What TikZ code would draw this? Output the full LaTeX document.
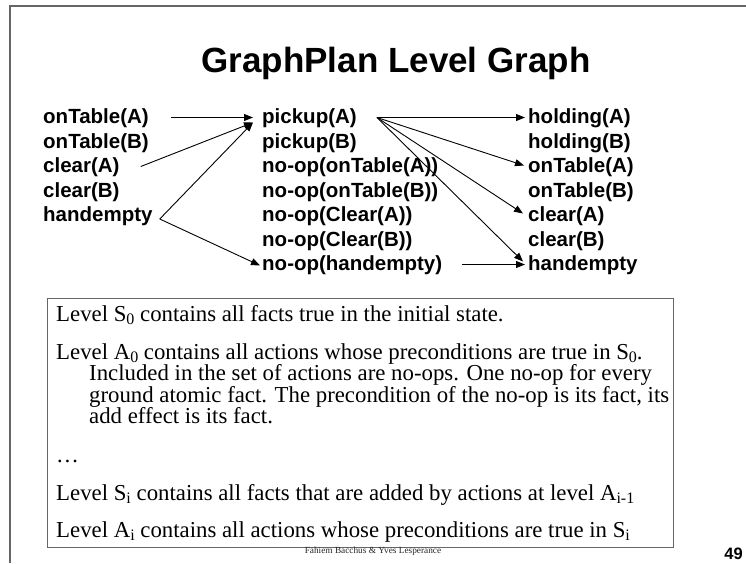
\documentclass[tikz,border=0pt]{standalone}
\usepackage{fontspec}
\setmainfont{Liberation Serif}
\newfontfamily\arialfont{Liberation Sans}
\usetikzlibrary{arrows.meta}

% lowered, smaller subscript as used in the notes
\newcommand\lowsub[1]{\raisebox{-0.17em}{\fontsize{16}{16}\selectfont #1}}

\begin{document}
\begin{tikzpicture}[x=1pt,y=-1pt,
  fact/.style={anchor=base west,inner sep=0pt,
    font=\arialfont\bfseries\fontsize{20.5}{24}\selectfont,
    text height=12pt,text depth=0pt},
  body/.style={anchor=base west,inner sep=0pt,
    font=\fontsize{22.8}{22.8}\selectfont,
    text height=15pt,text depth=4pt},
  link/.style={-{Triangle[length=9pt,width=7pt]},line width=0.9pt},
]
\useasboundingbox (0,0) rectangle (746,563);
\fill[white] (0,0) rectangle (746,563);

% slide frame
\draw[line width=2pt,black!60] (10,563) -- (10,6) -- (746,6);

% title
\node[anchor=base,inner sep=0pt,
  font=\arialfont\bfseries\fontsize{35}{40}\selectfont] (title) at (396,72)
  {GraphPlan Level Graph};

% level S0 (facts)
\node[fact] (onA)  at (43,123.5) {onTable(A)};
\node[fact] (onB)  at (43,148)   {onTable(B)};
\node[fact] (clA)  at (43,172.5) {clear(A)};
\node[fact] (clB)  at (43,197)   {clear(B)};
\node[fact] (heL)  at (43,221.5) {handempty};

% level A0 (actions)
\node[fact] (pA)   at (262,123.5) {pickup(A)};
\node[fact] (pB)   at (262,148)   {pickup(B)};
\node[fact] (nOA)  at (262,172.5) {no-op(onTable(A))};
\node[fact] (nOB)  at (262,197)   {no-op(onTable(B))};
\node[fact] (nCA)  at (262,221.5) {no-op(Clear(A))};
\node[fact] (nCB)  at (262,246)   {no-op(Clear(B))};
\node[fact] (nhe)  at (262,270.5) {no-op(handempty)};

% level S1 (facts)
\node[fact] (hA)   at (528,123.5) {holding(A)};
\node[fact] (hB)   at (528,148)   {holding(B)};
\node[fact] (otA)  at (528,172.5) {onTable(A)};
\node[fact] (otB)  at (528,197)   {onTable(B)};
\node[fact] (crA)  at (528,221.5) {clear(A)};
\node[fact] (crB)  at (528,246)   {clear(B)};
\node[fact] (heR)  at (528,270.5) {handempty};

% preconditions of pickup(A) and of the handempty no-op
\draw[link] ([shift={(22,0)}]onA.east) -- ([shift={(-9,0)}]pA.west);
\draw[link] ([shift={(21,0)}]clA.east) -- ([shift={(-9,5)}]pA.west);
\draw[link] ([shift={(7,3.5)}]heL.east) -- ([shift={(-9,5)}]pA.west);
\draw[link] ([shift={(7,3.5)}]heL.east) -- ([shift={(-2,1)}]nhe.west);

% effects of pickup(A)
\draw[link] ([shift={(20,0)}]pA.east) -- ([shift={(-3,0)}]hA.west);
\draw[link] ([shift={(20,0)}]pA.east) -- ([shift={(-4,-1)}]otA.west);
\draw[link] ([shift={(20,0)}]pA.east) -- ([shift={(-5,-2)}]crA.west);
\draw[link] ([shift={(20,0)}]pA.east) -- ([shift={(-5,-3)}]heR.west);
\draw[link] ([shift={(20,0)}]nhe.east) -- ([shift={(-3,0)}]heR.west);

% notes box
\node[draw=black!60,line width=1.4pt,anchor=north west,inner sep=0pt,
  minimum width=626pt,minimum height=249pt] (notes) at (47,298) {};

\node[body] (s0)  at (56,321)   {Level S\lowsub{0} contains all facts true in the initial state.};
\node[body] (a0)  at (56,359)   {Level A\lowsub{0} contains all actions whose preconditions are true in S\lowsub{0}.};
\node[body] (a0b) at (89,380.5) {Included in the set of actions are no-ops. One no-op for every};
\node[body] (a0c) at (89,402)   {ground atomic fact. The precondition of the no-op is its fact, its};
\node[body] (a0d) at (89,423.5) {add effect is its fact.};
\node[body] (dots) at (56,462)  {…};
\node[body] (si)  at (56,500)   {Level S\lowsub{i} contains all facts that are added by actions at level A\lowsub{i-1}};
\node[body] (ai)  at (56,537)   {Level A\lowsub{i} contains all actions whose preconditions are true in S\lowsub{i}};

% footer and page number
\node[anchor=base,inner sep=0pt,font=\fontsize{9.3}{10}\selectfont,black!85]
  (credit) at (373,553.5) {Fahiem Bacchus \& Yves Lesperance};
\node[anchor=base east,inner sep=0pt,
  font=\arialfont\bfseries\fontsize{16.5}{16.5}\selectfont] (pgnum) at (743,559) {49};
\end{tikzpicture}
\end{document}
